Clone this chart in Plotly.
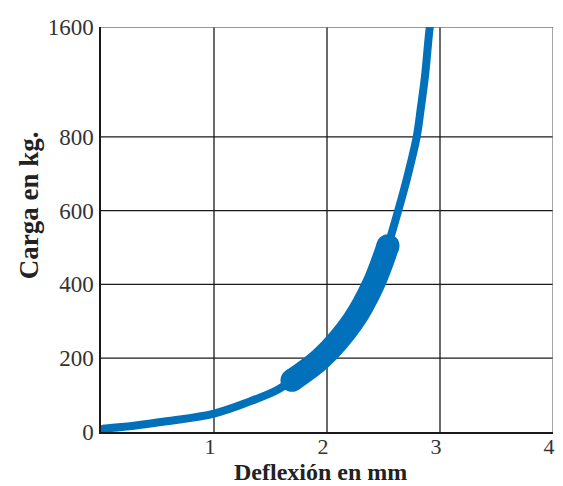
import plotly.graph_objects as go

defl_thin = [0.02, 0.29, 0.58, 1.0, 1.32, 1.555, 1.69]
load_thin = [9, 17, 29, 50, 83, 113, 140]
defl_thick = [1.69, 1.95, 2.23, 2.41, 2.54]
load_thick = [140, 200, 300, 400, 505]
defl_top = [2.54, 2.63, 2.71, 2.794, 2.832, 2.867, 2.91, 2.93]
load_top = [505, 600, 690, 800, 1020, 1240, 1600, 1690]

x_ticks = [1, 2, 3, 4]
y_ticks = [0, 200, 400, 600, 800, 1600]
y_tick_labels = ["0", "200", "400", "600", "800", "1600"]

BREAK = 800
UPPER_FACTOR = 0.372  # compressed scale above the break


def ys(v):
    return v if v <= BREAK else BREAK + (v - BREAK) * UPPER_FACTOR


def ymap(vals):
    return [ys(v) for v in vals]


BLUE = "#0071BA"
FONT = "Liberation Serif"

fig = go.Figure()

# grid lines (interior)
for xv in x_ticks[:-1]:
    fig.add_shape(type="line", x0=xv, x1=xv, y0=0, y1=ys(y_ticks[-1]),
                  line=dict(color="#1a1a1a", width=1.3), layer="below")
for yv in y_ticks[1:-1]:
    fig.add_shape(type="line", x0=0, x1=x_ticks[-1], y0=ys(yv), y1=ys(yv),
                  line=dict(color="#1a1a1a", width=1.3), layer="below")
# top and right border (grey)
fig.add_shape(type="line", x0=0, x1=x_ticks[-1], y0=ys(y_ticks[-1]), y1=ys(y_ticks[-1]),
              line=dict(color="#777777", width=1.3), layer="below")
fig.add_shape(type="line", x0=x_ticks[-1], x1=x_ticks[-1], y0=0, y1=ys(y_ticks[-1]),
              line=dict(color="#777777", width=1.3), layer="below")

fig.add_trace(go.Scatter(x=defl_thin, y=ymap(load_thin), mode="lines",
                         line=dict(color=BLUE, width=8, shape="spline", smoothing=1.0),
                         cliponaxis=False, hoverinfo="skip"))
fig.add_trace(go.Scatter(x=defl_top, y=ymap(load_top), mode="lines",
                         line=dict(color=BLUE, width=8, shape="spline", smoothing=1.0),
                         cliponaxis=False, hoverinfo="skip"))
# round caps for thin line
fig.add_trace(go.Scatter(x=[defl_thin[0], defl_top[-1]], y=ymap([load_thin[0], load_top[-1]]),
                         mode="markers", marker=dict(color=BLUE, size=8),
                         cliponaxis=False, hoverinfo="skip"))
# thick highlighted segment
fig.add_trace(go.Scatter(x=defl_thick, y=ymap(load_thick), mode="lines",
                         line=dict(color=BLUE, width=23, shape="spline", smoothing=1.0),
                         cliponaxis=False, hoverinfo="skip"))
fig.add_trace(go.Scatter(x=[defl_thick[0], defl_thick[-1]], y=ymap([load_thick[0], load_thick[-1]]),
                         mode="markers", marker=dict(color=BLUE, size=23),
                         cliponaxis=False, hoverinfo="skip"))

# page body has an 8px margin, so the figure is offset by 8px
fig.update_layout(
    width=555, height=478,
    margin=dict(l=93, r=10, t=19, b=54),
    plot_bgcolor="white", paper_bgcolor="white",
    showlegend=False,
    font=dict(family=FONT, size=23, color="#333333"),
    xaxis=dict(range=[0, 4], tickvals=x_ticks, ticktext=[str(v) for v in x_ticks],
               showgrid=False, zeroline=False, showline=True, linecolor="#1a1a1a",
               linewidth=1.5, ticks="", ticklabelstandoff=-6, ticklabelshift=-4,
               automargin=False,
               tickfont=dict(family=FONT, size=22, color="#333333")),
    yaxis=dict(range=[0, ys(y_ticks[-1])], tickvals=ymap(y_ticks), ticktext=y_tick_labels,
               showgrid=False, zeroline=False, showline=True, linecolor="#1a1a1a",
               linewidth=1.5, ticks="", ticklabelstandoff=1, automargin=False,
               tickfont=dict(family=FONT, size=23, color="#333333")),
    annotations=[
        dict(text="<b>Deflexión en mm</b>", xref="paper", yref="paper",
             x=0.486, y=0, yshift=-40, showarrow=False, yanchor="middle",
             font=dict(family=FONT, size=24, color="#222222")),
        dict(text="<b>Carga en kg.</b>", xref="paper", yref="paper",
             x=0, xshift=-72, y=0.56, showarrow=False, textangle=-90,
             xanchor="center", yanchor="middle",
             font=dict(family=FONT, size=27, color="#222222")),
    ],
)

fig.write_html("out.html")
